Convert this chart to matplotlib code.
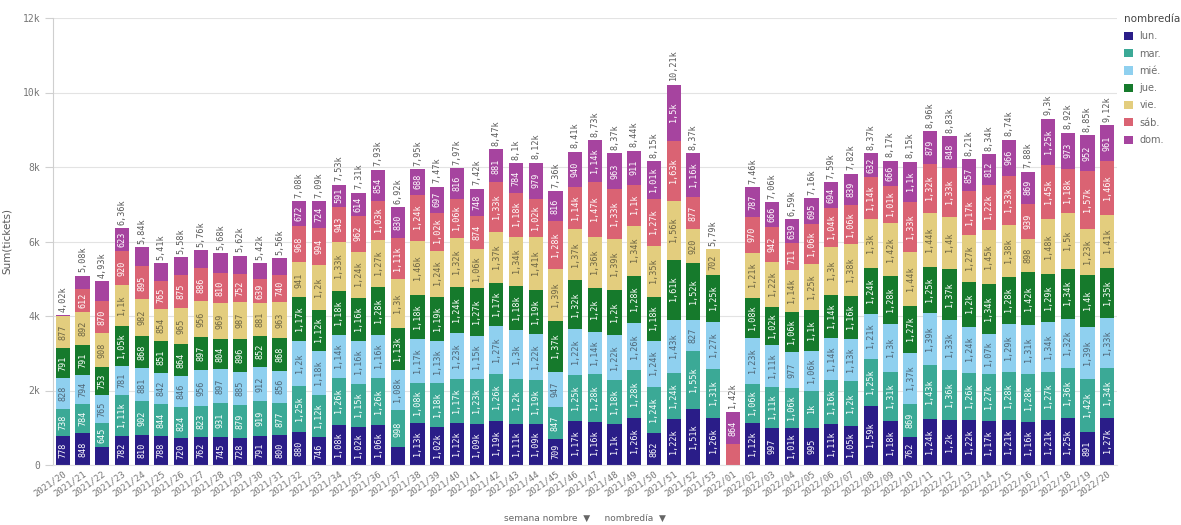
import matplotlib.pyplot as plt
from matplotlib.patches import Patch
import numpy as np

# weekly ticket counts, stacked by weekday
weeks = ['2021/20', '2021/21', '2021/22', '2021/23', '2021/24', '2021/25', '2021/26', '2021/27',
         '2021/28', '2021/29', '2021/30', '2021/31', '2021/32', '2021/33', '2021/34', '2021/35',
         '2021/36', '2021/37', '2021/38', '2021/39', '2021/40', '2021/41', '2021/42', '2021/43',
         '2021/44', '2021/45', '2021/46', '2021/47', '2021/48', '2021/49', '2021/50', '2021/51',
         '2021/52', '2021/53', '2022/01', '2022/02', '2022/03', '2022/04', '2022/05', '2022/06',
         '2022/07', '2022/08', '2022/09', '2022/10', '2022/11', '2022/12', '2022/13', '2022/14',
         '2022/15', '2022/16', '2022/17', '2022/18', '2022/19', '2022/20']

lun = [778, 848, 470, 782, 810, 788, 720, 762, 745, 728,
       791, 800, 880, 746, 1082, 1020, 1064, 472, 1130, 1020,
       1124, 1090, 1190, 1112, 1094, 709, 1170, 1156, 1096, 1264,
       862, 1224, 1513, 1260,
       0, 1120, 997, 1006, 995, 1113, 1050, 1594, 1180, 762,
       1244, 1196, 1216, 1174, 1210, 1160, 1214, 1250, 891, 1270]
mar = [738, 784, 645, 1106, 902, 844, 824, 823, 931, 879,
       919, 877, 1250, 1122, 1260, 1150, 1264, 998, 1080, 1177,
       1174, 1230, 1260, 1200, 1194, 847, 1250, 1276, 1176, 1282,
       1240, 1244, 1550, 1310,
       0, 1060, 1108, 1060, 1000, 1160, 1200, 1250, 1310, 869,
       1434, 1358, 1260, 1270, 1280, 1280, 1274, 1360, 1420, 1340]
mie = [828, 794, 765, 781, 881, 842, 846, 956, 897, 885,
       912, 856, 1200, 1180, 1140, 1160, 1164, 1080, 1170, 1130,
       1234, 1150, 1270, 1300, 1224, 947, 1220, 1136, 1216, 1260,
       1240, 1434, 827, 1270,
       0, 1230, 1110, 977, 1060, 1140, 1130, 1210, 1300, 1374,
       1390, 1330, 1240, 1070, 1290, 1310, 1340, 1320, 1390, 1330]
jue = [791, 791, 753, 1050, 868, 851, 864, 897, 804, 896,
       852, 868, 1170, 1120, 1180, 1160, 1284, 1130, 1180, 1190,
       1240, 1270, 1170, 1180, 1194, 1370, 1320, 1196, 1200, 1280,
       1180, 1614, 1520, 1250,
       0, 1080, 1020, 1060, 1100, 1140, 1160, 1240, 1280, 1272,
       1250, 1370, 1200, 1340, 1280, 1420, 1290, 1340, 1400, 1350]
vie = [877, 892, 908, 1100, 982, 854, 965, 956, 969, 987,
       881, 963, 941, 1200, 1330, 1240, 1270, 1300, 1460, 1240,
       1320, 1060, 1370, 1340, 1414, 1390, 1370, 1356, 1390, 1340,
       1350, 1560, 920, 702,
       0, 1210, 1220, 1140, 1250, 1300, 1380, 1300, 1420, 1440,
       1440, 1400, 1270, 1450, 1380, 898, 1480, 1500, 1230, 1410]
sab = [0, 612, 870, 920, 895, 765, 875, 886, 810, 752,
       639, 740, 968, 994, 943, 962, 1030, 1110, 1240, 1020,
       1060, 874, 1330, 1180, 1020, 1280, 1140, 1470, 1330, 1100,
       1270, 1630, 877, 0,
       556, 970, 942, 711, 1060, 1040, 1060, 1140, 1010, 1330,
       1320, 1330, 1170, 1220, 1330, 939, 1450, 1180, 1570, 1460]
dom = [8, 359, 519, 623, 502, 466, 486, 480, 524, 493,
       426, 456, 672, 724, 591, 614, 854, 830, 688, 697,
       816, 748, 881, 784, 979, 816, 940, 1136, 963, 911,
       1010, 1500, 1160, 0,
       864, 787, 666, 639, 695, 694, 839, 632, 666, 1100,
       879, 848, 857, 812, 966, 869, 1250, 973, 952, 961]

days = ['lun.', 'mar.', 'mié.', 'jue.', 'vie.', 'sáb.', 'dom.']
series = [lun, mar, mie, jue, vie, sab, dom]
colors = ['#2a1d88', '#3ba996', '#8fd0ef', '#167a2c', '#e3cd7e', '#da6373', '#a6449f']
text_colors = ['white', 'white', '#4f6677', 'white', '#6d6544', 'white', 'white']


def fmt(v):
    if v < 1000:
        return str(int(v))
    s = f"{v / 1000:.2f}".rstrip('0').rstrip('.')
    return s.replace('.', ',') + 'k'


mono = 'DejaVu Sans Mono'
grey = '#595959'

fig = plt.figure(figsize=(11.81, 5.25), dpi=100)
ax = fig.add_axes([53 / 1181, 60 / 525, 1064 / 1181, 447 / 525])

x = np.arange(len(weeks))
width = 0.72
bottom = np.zeros(len(weeks))
for vals, day, col, tcol in zip(series, days, colors, text_colors):
    vals = np.array(vals, dtype=float)
    ax.bar(x, vals, width, bottom=bottom, color=col, label=day, zorder=2)
    for xi, b, v in zip(x, bottom, vals):
        if v >= 580:
            ax.text(xi, b + v / 2, fmt(v), rotation=90, ha='center', va='center',
                    fontsize=6.1, family=mono, color=tcol, zorder=3)
    bottom += vals

# totals above each bar
for xi, t in zip(x, bottom):
    ax.text(xi, t + 90, fmt(t), rotation=90, ha='center', va='bottom',
            fontsize=6.1, family=mono, color=grey)

ax.set_xlim(-0.5, len(weeks) - 0.5)
ax.set_ylim(0, 12000)
ax.set_yticks(np.arange(0, 12001, 2000))
ax.set_yticklabels(['0', '2k', '4k', '6k', '8k', '10k', '12k'], family=mono,
                   fontsize=7, color='#777777')
ax.set_xticks(x)
ax.set_xticklabels(weeks, rotation=35, ha='right', va='top', rotation_mode='anchor',
                   family=mono, fontsize=6.5, color='#777777')
ax.tick_params(axis='x', length=0, pad=3)
ax.tick_params(axis='y', length=6, color='#d0d0d0', pad=3)
ax.grid(axis='y', color='#e3e3e3', linewidth=0.8, zorder=0)
for side in ['top', 'right']:
    ax.spines[side].set_visible(False)
ax.spines['left'].set_color('#cfcfcf')
ax.spines['bottom'].set_color('#e3e3e3')
ax.set_ylabel('Sum(tickets)', fontsize=7.5, color=grey, labelpad=8)

handles = [Patch(facecolor=c, edgecolor='none') for c in colors]
leg = fig.legend(handles, days, loc='upper left', bbox_to_anchor=(1124 / 1181, 1 - 14 / 525),
                 frameon=False, title='nombredía', title_fontsize=7.5, fontsize=7,
                 handlelength=0.9, handleheight=0.9, handletextpad=0.7, labelspacing=0.75,
                 borderpad=0, borderaxespad=0, alignment='left')
leg.get_title().set_color('#444444')
for t in leg.get_texts():
    t.set_color('#6b6b6b')

fig.text(585 / 1181, 1 - 518 / 525, 'semana nombre  \u25bc     nombredía  \u25bc', ha='center',
         va='center', fontsize=6.5, color='#666666')

fig.savefig('out.png', dpi=100)
